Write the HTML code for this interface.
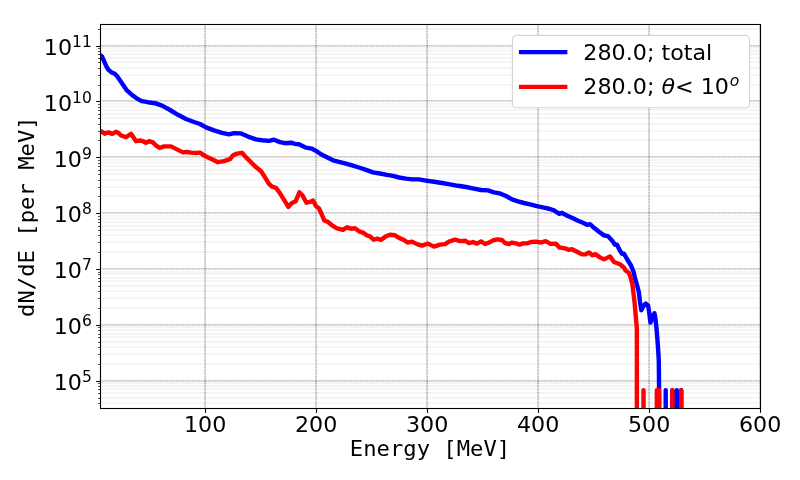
<!DOCTYPE html>
<html lang="en"><head><meta charset="utf-8"><title>dN/dE spectrum</title>
<style>
html,body{margin:0;padding:0;background:#fff;}
body{width:800px;height:480px;overflow:hidden;}
svg{display:block;position:absolute;left:0;top:0;}
</style></head><body>
<svg width="800" height="480" viewBox="0 0 800 480">
<defs><clipPath id="ax"><rect x="100" y="24" width="660" height="384"/></clipPath></defs>
<rect width="800" height="480" fill="#fff"/>
<g clip-path="url(#ax)">
<g stroke="#000" stroke-opacity="0.08" stroke-width="1" fill="none">
<line x1="100.0" x2="760.0" y1="403.00" y2="403.00"/>
<line x1="100.0" x2="760.0" y1="398.00" y2="398.00"/>
<line x1="100.0" x2="760.0" y1="393.00" y2="393.00"/>
<line x1="100.0" x2="760.0" y1="389.00" y2="389.00"/>
<line x1="100.0" x2="760.0" y1="386.00" y2="386.00"/>
<line x1="100.0" x2="760.0" y1="383.00" y2="383.00"/>
<line x1="100.0" x2="760.0" y1="364.00" y2="364.00"/>
<line x1="100.0" x2="760.0" y1="354.00" y2="354.00"/>
<line x1="100.0" x2="760.0" y1="347.00" y2="347.00"/>
<line x1="100.0" x2="760.0" y1="342.00" y2="342.00"/>
<line x1="100.0" x2="760.0" y1="337.00" y2="337.00"/>
<line x1="100.0" x2="760.0" y1="334.00" y2="334.00"/>
<line x1="100.0" x2="760.0" y1="330.00" y2="330.00"/>
<line x1="100.0" x2="760.0" y1="327.00" y2="327.00"/>
<line x1="100.0" x2="760.0" y1="308.00" y2="308.00"/>
<line x1="100.0" x2="760.0" y1="298.00" y2="298.00"/>
<line x1="100.0" x2="760.0" y1="291.00" y2="291.00"/>
<line x1="100.0" x2="760.0" y1="286.00" y2="286.00"/>
<line x1="100.0" x2="760.0" y1="281.00" y2="281.00"/>
<line x1="100.0" x2="760.0" y1="278.00" y2="278.00"/>
<line x1="100.0" x2="760.0" y1="274.00" y2="274.00"/>
<line x1="100.0" x2="760.0" y1="272.00" y2="272.00"/>
<line x1="100.0" x2="760.0" y1="252.00" y2="252.00"/>
<line x1="100.0" x2="760.0" y1="242.00" y2="242.00"/>
<line x1="100.0" x2="760.0" y1="235.00" y2="235.00"/>
<line x1="100.0" x2="760.0" y1="230.00" y2="230.00"/>
<line x1="100.0" x2="760.0" y1="226.00" y2="226.00"/>
<line x1="100.0" x2="760.0" y1="222.00" y2="222.00"/>
<line x1="100.0" x2="760.0" y1="219.00" y2="219.00"/>
<line x1="100.0" x2="760.0" y1="216.00" y2="216.00"/>
<line x1="100.0" x2="760.0" y1="196.00" y2="196.00"/>
<line x1="100.0" x2="760.0" y1="187.00" y2="187.00"/>
<line x1="100.0" x2="760.0" y1="180.00" y2="180.00"/>
<line x1="100.0" x2="760.0" y1="174.00" y2="174.00"/>
<line x1="100.0" x2="760.0" y1="170.00" y2="170.00"/>
<line x1="100.0" x2="760.0" y1="166.00" y2="166.00"/>
<line x1="100.0" x2="760.0" y1="163.00" y2="163.00"/>
<line x1="100.0" x2="760.0" y1="160.00" y2="160.00"/>
<line x1="100.0" x2="760.0" y1="140.00" y2="140.00"/>
<line x1="100.0" x2="760.0" y1="131.00" y2="131.00"/>
<line x1="100.0" x2="760.0" y1="124.00" y2="124.00"/>
<line x1="100.0" x2="760.0" y1="118.00" y2="118.00"/>
<line x1="100.0" x2="760.0" y1="114.00" y2="114.00"/>
<line x1="100.0" x2="760.0" y1="110.00" y2="110.00"/>
<line x1="100.0" x2="760.0" y1="107.00" y2="107.00"/>
<line x1="100.0" x2="760.0" y1="104.00" y2="104.00"/>
<line x1="100.0" x2="760.0" y1="85.00" y2="85.00"/>
<line x1="100.0" x2="760.0" y1="75.00" y2="75.00"/>
<line x1="100.0" x2="760.0" y1="68.00" y2="68.00"/>
<line x1="100.0" x2="760.0" y1="62.00" y2="62.00"/>
<line x1="100.0" x2="760.0" y1="58.00" y2="58.00"/>
<line x1="100.0" x2="760.0" y1="54.00" y2="54.00"/>
<line x1="100.0" x2="760.0" y1="51.00" y2="51.00"/>
<line x1="100.0" x2="760.0" y1="48.00" y2="48.00"/>
<line x1="100.0" x2="760.0" y1="29.00" y2="29.00"/>
</g>
<g stroke="#000" stroke-opacity="0.12" stroke-width="1.4" fill="none">
<line x1="100.0" x2="760.0" y1="380.90" y2="380.90"/>
<line x1="100.0" x2="760.0" y1="324.90" y2="324.90"/>
<line x1="100.0" x2="760.0" y1="268.90" y2="268.90"/>
<line x1="100.0" x2="760.0" y1="212.90" y2="212.90"/>
<line x1="100.0" x2="760.0" y1="156.90" y2="156.90"/>
<line x1="100.0" x2="760.0" y1="100.90" y2="100.90"/>
<line x1="100.0" x2="760.0" y1="45.90" y2="45.90"/>
<line x1="205.10" x2="205.10" y1="24.0" y2="408.0"/>
<line x1="316.10" x2="316.10" y1="24.0" y2="408.0"/>
<line x1="427.10" x2="427.10" y1="24.0" y2="408.0"/>
<line x1="538.10" x2="538.10" y1="24.0" y2="408.0"/>
<line x1="649.10" x2="649.10" y1="24.0" y2="408.0"/>
<line x1="760.10" x2="760.10" y1="24.0" y2="408.0"/>
</g>
<g stroke="#000" stroke-opacity="0.24" stroke-width="1.4" stroke-dasharray="1.2 1.1" fill="none">
<line x1="100.0" x2="760.0" y1="380.90" y2="380.90"/>
<line x1="100.0" x2="760.0" y1="324.90" y2="324.90"/>
<line x1="100.0" x2="760.0" y1="268.90" y2="268.90"/>
<line x1="100.0" x2="760.0" y1="212.90" y2="212.90"/>
<line x1="100.0" x2="760.0" y1="156.90" y2="156.90"/>
<line x1="100.0" x2="760.0" y1="100.90" y2="100.90"/>
<line x1="100.0" x2="760.0" y1="45.90" y2="45.90"/>
<line x1="205.10" x2="205.10" y1="24.0" y2="408.0"/>
<line x1="316.10" x2="316.10" y1="24.0" y2="408.0"/>
<line x1="427.10" x2="427.10" y1="24.0" y2="408.0"/>
<line x1="538.10" x2="538.10" y1="24.0" y2="408.0"/>
<line x1="649.10" x2="649.10" y1="24.0" y2="408.0"/>
<line x1="760.10" x2="760.10" y1="24.0" y2="408.0"/>
</g>
<g fill="none" stroke-width="4.4" stroke-linejoin="round" stroke-linecap="butt">
<polyline stroke="#0000ff" points="99.00,54.60 100.00,55.00 102.20,56.80 104.40,61.80 106.50,66.60 108.50,69.80 111.30,72.20 114.75,73.80 117.00,76.00 121.30,82.30 126.90,90.40 132.50,95.40 136.00,97.80 138.80,99.60 142.00,101.20 148.00,102.20 155.00,103.20 162.00,105.60 170.00,110.00 178.00,114.80 186.00,119.00 194.00,122.00 200.00,124.00 206.00,127.40 214.00,130.40 222.00,132.80 229.00,134.40 234.00,133.20 241.00,133.40 248.00,136.60 256.00,139.40 262.00,140.30 269.00,140.90 274.00,139.70 280.00,142.10 285.00,143.20 291.00,142.70 295.00,143.90 299.00,144.30 306.00,147.70 312.00,148.70 316.00,150.90 321.00,154.30 327.00,157.30 333.00,160.30 338.00,161.70 345.00,163.30 352.00,165.30 359.00,167.50 366.00,169.90 373.00,172.30 380.00,173.50 387.00,174.90 393.00,175.90 399.00,177.50 406.00,178.60 412.00,179.40 419.00,179.40 426.00,180.60 434.00,181.80 442.00,183.00 450.00,184.40 458.00,185.80 466.00,187.00 474.00,188.60 481.00,190.00 488.00,190.40 494.00,192.40 500.00,193.40 506.00,196.00 512.00,199.40 518.00,201.40 524.00,203.00 531.00,204.60 538.00,206.40 544.00,207.60 550.00,209.00 554.00,210.40 559.00,213.80 562.00,212.80 566.00,215.20 572.00,217.80 578.00,220.80 583.00,222.80 587.00,224.80 590.00,224.20 594.00,227.80 599.00,231.80 604.00,235.40 608.00,236.20 612.00,240.40 615.00,244.80 617.00,244.80 620.00,250.80 622.00,253.80 624.00,253.80 627.00,259.00 631.00,265.50 633.50,271.80 635.00,278.00 637.00,285.00 638.80,292.00 640.00,302.00 641.30,310.20 643.30,306.20 645.60,303.60 648.10,305.50 649.20,312.50 650.40,322.60 652.00,319.00 653.10,315.80 654.40,313.30 655.40,318.30 656.50,328.30 657.50,340.80 658.30,352.00 658.80,361.00 659.07,390.30 659.07,430.00"/>
<path stroke="#0000ff" d="M665.71,430.00 L665.71,390.30 L665.71,430.00 M672.37,430.00 L672.37,390.30 L672.37,430.00 M676.81,430.00 L676.81,390.30 L676.81,430.00 M681.24,430.00 L681.24,390.30 L681.24,430.00 "/>
<polyline stroke="#ff0000" points="100.00,131.00 101.00,131.20 104.75,133.70 108.50,132.40 112.25,133.90 116.00,131.80 118.50,133.00 121.00,135.50 126.00,137.20 128.50,135.50 131.00,133.90 133.50,137.40 136.00,141.20 139.75,140.50 142.90,141.20 146.00,142.80 149.10,141.20 152.90,142.40 156.00,145.50 159.75,147.80 164.10,146.40 171.00,146.40 176.00,148.90 182.90,152.40 186.60,151.80 191.00,152.60 196.00,153.00 200.00,152.60 206.00,156.60 212.00,159.20 218.00,162.20 224.00,161.20 230.00,159.20 233.00,155.20 237.00,153.60 242.00,152.80 246.00,157.20 250.00,161.30 255.00,166.30 261.00,171.30 265.00,177.30 269.00,183.90 272.00,186.70 276.00,187.90 280.00,193.30 285.00,201.30 288.40,206.90 292.00,202.90 295.60,201.30 299.40,192.30 302.40,195.30 306.40,202.70 310.00,201.90 313.00,200.50 316.00,206.10 319.00,208.50 322.00,215.00 324.40,220.50 328.00,222.00 332.00,225.30 337.00,228.30 343.00,229.90 347.00,227.30 351.00,228.70 355.00,228.30 359.00,231.30 363.00,232.70 367.00,235.30 370.00,236.30 373.60,239.70 377.60,238.70 381.00,239.90 386.00,236.30 390.00,234.70 395.00,235.30 399.00,237.90 404.00,240.00 407.50,242.60 412.00,241.60 417.00,244.10 422.00,245.60 428.00,243.60 434.00,246.60 440.00,244.60 445.00,244.10 449.00,241.60 455.00,239.50 460.00,241.10 465.00,240.70 469.00,243.10 473.00,242.00 477.00,243.60 481.00,241.40 485.00,244.00 489.00,242.60 493.00,240.40 497.00,239.40 502.00,240.00 505.00,243.00 509.00,244.00 512.00,242.60 516.00,243.40 519.60,244.60 523.00,243.40 527.00,243.40 531.00,242.00 536.00,241.60 541.00,242.50 545.60,241.10 550.50,243.90 556.00,243.70 559.40,247.50 565.00,248.40 569.00,249.80 572.00,249.20 577.00,251.80 582.00,254.40 586.00,254.20 589.00,252.40 592.40,255.20 595.60,254.20 600.00,257.40 604.00,259.40 610.00,256.40 614.00,262.00 620.00,264.30 623.80,267.50 625.60,270.50 628.80,272.70 630.60,277.40 632.43,284.50 634.65,303.00 636.87,329.00 636.87,430.00"/>
<path stroke="#ff0000" d="M643.53,430.00 L643.53,390.30 L643.53,430.00 M656.84,430.00 L656.84,390.30 L659.06,390.30 L659.06,430.00 M672.37,430.00 L672.37,390.30 L672.37,430.00 M681.24,430.00 L681.24,390.30 L681.24,430.00 "/>
</g>
</g>
<rect x="100.5" y="24.5" width="660.0" height="384.0" fill="none" stroke="#000" stroke-width="1.1"/>
<g stroke="#000" stroke-width="1.1">
<line x1="205.50" x2="205.50" y1="408.5" y2="412.8"/>
<line x1="316.50" x2="316.50" y1="408.5" y2="412.8"/>
<line x1="427.50" x2="427.50" y1="408.5" y2="412.8"/>
<line x1="538.50" x2="538.50" y1="408.5" y2="412.8"/>
<line x1="649.50" x2="649.50" y1="408.5" y2="412.8"/>
<line x1="760.50" x2="760.50" y1="408.5" y2="412.8"/>
<line x1="96.2" x2="100.5" y1="381.50" y2="381.50"/>
<line x1="96.2" x2="100.5" y1="325.50" y2="325.50"/>
<line x1="96.2" x2="100.5" y1="269.50" y2="269.50"/>
<line x1="96.2" x2="100.5" y1="213.50" y2="213.50"/>
<line x1="96.2" x2="100.5" y1="157.50" y2="157.50"/>
<line x1="96.2" x2="100.5" y1="101.50" y2="101.50"/>
<line x1="96.2" x2="100.5" y1="46.50" y2="46.50"/>
</g><g stroke="#000" stroke-width="0.8" stroke-opacity="0.85">
<line x1="98.0" x2="100.5" y1="403.50" y2="403.50"/>
<line x1="98.0" x2="100.5" y1="398.50" y2="398.50"/>
<line x1="98.0" x2="100.5" y1="393.50" y2="393.50"/>
<line x1="98.0" x2="100.5" y1="389.50" y2="389.50"/>
<line x1="98.0" x2="100.5" y1="386.50" y2="386.50"/>
<line x1="98.0" x2="100.5" y1="383.50" y2="383.50"/>
<line x1="98.0" x2="100.5" y1="364.50" y2="364.50"/>
<line x1="98.0" x2="100.5" y1="354.50" y2="354.50"/>
<line x1="98.0" x2="100.5" y1="347.50" y2="347.50"/>
<line x1="98.0" x2="100.5" y1="342.50" y2="342.50"/>
<line x1="98.0" x2="100.5" y1="337.50" y2="337.50"/>
<line x1="98.0" x2="100.5" y1="334.50" y2="334.50"/>
<line x1="98.0" x2="100.5" y1="330.50" y2="330.50"/>
<line x1="98.0" x2="100.5" y1="327.50" y2="327.50"/>
<line x1="98.0" x2="100.5" y1="308.50" y2="308.50"/>
<line x1="98.0" x2="100.5" y1="298.50" y2="298.50"/>
<line x1="98.0" x2="100.5" y1="291.50" y2="291.50"/>
<line x1="98.0" x2="100.5" y1="286.50" y2="286.50"/>
<line x1="98.0" x2="100.5" y1="281.50" y2="281.50"/>
<line x1="98.0" x2="100.5" y1="278.50" y2="278.50"/>
<line x1="98.0" x2="100.5" y1="274.50" y2="274.50"/>
<line x1="98.0" x2="100.5" y1="272.50" y2="272.50"/>
<line x1="98.0" x2="100.5" y1="252.50" y2="252.50"/>
<line x1="98.0" x2="100.5" y1="242.50" y2="242.50"/>
<line x1="98.0" x2="100.5" y1="235.50" y2="235.50"/>
<line x1="98.0" x2="100.5" y1="230.50" y2="230.50"/>
<line x1="98.0" x2="100.5" y1="226.50" y2="226.50"/>
<line x1="98.0" x2="100.5" y1="222.50" y2="222.50"/>
<line x1="98.0" x2="100.5" y1="219.50" y2="219.50"/>
<line x1="98.0" x2="100.5" y1="216.50" y2="216.50"/>
<line x1="98.0" x2="100.5" y1="196.50" y2="196.50"/>
<line x1="98.0" x2="100.5" y1="187.50" y2="187.50"/>
<line x1="98.0" x2="100.5" y1="180.50" y2="180.50"/>
<line x1="98.0" x2="100.5" y1="174.50" y2="174.50"/>
<line x1="98.0" x2="100.5" y1="170.50" y2="170.50"/>
<line x1="98.0" x2="100.5" y1="166.50" y2="166.50"/>
<line x1="98.0" x2="100.5" y1="163.50" y2="163.50"/>
<line x1="98.0" x2="100.5" y1="160.50" y2="160.50"/>
<line x1="98.0" x2="100.5" y1="140.50" y2="140.50"/>
<line x1="98.0" x2="100.5" y1="131.50" y2="131.50"/>
<line x1="98.0" x2="100.5" y1="124.50" y2="124.50"/>
<line x1="98.0" x2="100.5" y1="118.50" y2="118.50"/>
<line x1="98.0" x2="100.5" y1="114.50" y2="114.50"/>
<line x1="98.0" x2="100.5" y1="110.50" y2="110.50"/>
<line x1="98.0" x2="100.5" y1="107.50" y2="107.50"/>
<line x1="98.0" x2="100.5" y1="104.50" y2="104.50"/>
<line x1="98.0" x2="100.5" y1="85.50" y2="85.50"/>
<line x1="98.0" x2="100.5" y1="75.50" y2="75.50"/>
<line x1="98.0" x2="100.5" y1="68.50" y2="68.50"/>
<line x1="98.0" x2="100.5" y1="62.50" y2="62.50"/>
<line x1="98.0" x2="100.5" y1="58.50" y2="58.50"/>
<line x1="98.0" x2="100.5" y1="54.50" y2="54.50"/>
<line x1="98.0" x2="100.5" y1="51.50" y2="51.50"/>
<line x1="98.0" x2="100.5" y1="48.50" y2="48.50"/>
<line x1="98.0" x2="100.5" y1="29.50" y2="29.50"/>
</g>
<g font-family="'DejaVu Sans', 'Liberation Sans', sans-serif" font-size="22.22" fill="#000">
<text transform="translate(205.10 432.2) scale(1 0.955)" text-anchor="middle">100</text>
<text transform="translate(316.10 432.2) scale(1 0.955)" text-anchor="middle">200</text>
<text transform="translate(427.10 432.2) scale(1 0.955)" text-anchor="middle">300</text>
<text transform="translate(538.10 432.2) scale(1 0.955)" text-anchor="middle">400</text>
<text transform="translate(649.10 432.2) scale(1 0.955)" text-anchor="middle">500</text>
<text transform="translate(760.10 432.2) scale(1 0.955)" text-anchor="middle">600</text>
<text transform="translate(81.91 390.15) scale(1 0.955)" text-anchor="end">10</text>
<text transform="translate(82.01 382.00)" font-size="15.55">5</text>
<text transform="translate(81.91 334.15) scale(1 0.955)" text-anchor="end">10</text>
<text transform="translate(82.01 326.00)" font-size="15.55">6</text>
<text transform="translate(81.91 278.15) scale(1 0.955)" text-anchor="end">10</text>
<text transform="translate(82.01 270.00)" font-size="15.55">7</text>
<text transform="translate(81.91 222.15) scale(1 0.955)" text-anchor="end">10</text>
<text transform="translate(82.01 214.00)" font-size="15.55">8</text>
<text transform="translate(81.91 167.15) scale(1 0.955)" text-anchor="end">10</text>
<text transform="translate(82.01 159.00)" font-size="15.55">9</text>
<text transform="translate(72.02 111.15) scale(1 0.955)" text-anchor="end">10</text>
<text transform="translate(72.12 103.00)" font-size="15.55">10</text>
<text transform="translate(72.02 55.15) scale(1 0.955)" text-anchor="end">10</text>
<text transform="translate(72.12 47.00)" font-size="15.55">11</text>
</g>
<g font-family="'DejaVu Sans Mono', 'Liberation Mono', monospace" font-size="22.22" fill="#000">
<text transform="translate(430 456.4) scale(1 0.955)" text-anchor="middle" xml:space="preserve">Energy [MeV]</text>
<text transform="translate(33.6,216.6) rotate(-90) scale(1 0.955)" text-anchor="middle" xml:space="preserve">dN/dE [per MeV]</text>
</g>
<rect x="512.4" y="35.4" width="237.2" height="72.4" rx="4.4" ry="4.4" fill="#fff" fill-opacity="1" stroke="#ccc" stroke-opacity="0.8" stroke-width="1.1"/>
<g stroke-width="4.17" stroke-linecap="square">
<line x1="521" x2="565.3" y1="52.1" y2="52.1" stroke="#0000ff"/>
<line x1="521" x2="565.3" y1="86.8" y2="86.8" stroke="#ff0000"/>
</g>
<g font-family="'DejaVu Sans', 'Liberation Sans', sans-serif" font-size="22.22" fill="#000">
<text transform="translate(583.3 59.9) scale(1 0.955)" xml:space="preserve">280.0; total</text>
<text transform="translate(583.3 94.1) scale(1 0.955)" xml:space="preserve">280.0; <tspan font-style="italic">θ</tspan>&lt; 10</text>
<text transform="translate(729.7 86.2)" font-style="italic" font-size="15.55">o</text>
</g>
</svg>
</body></html>
